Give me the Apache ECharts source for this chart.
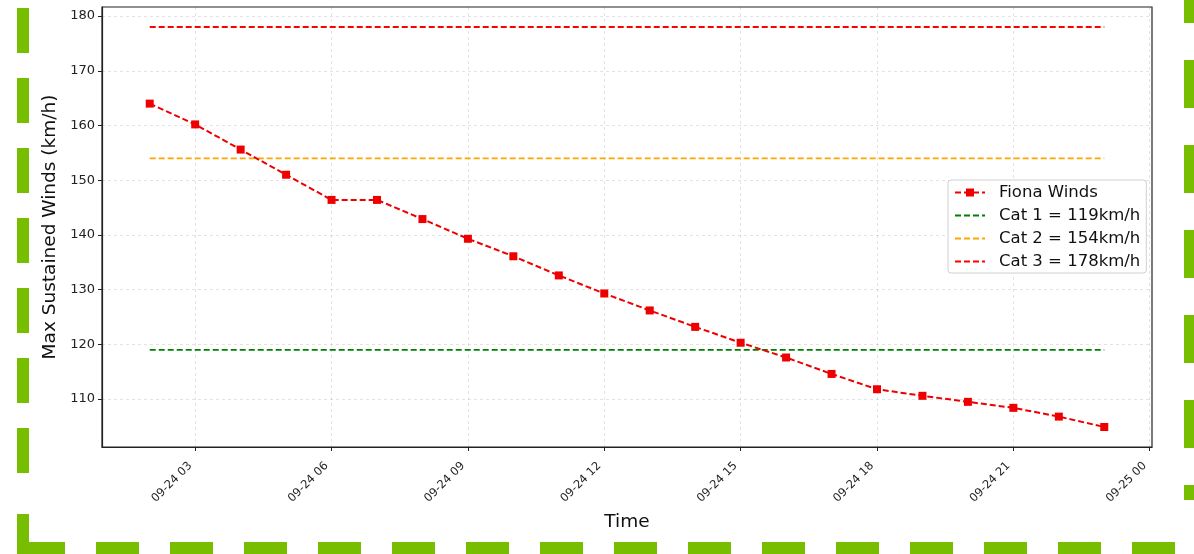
<!DOCTYPE html>
<html>
<head>
<meta charset="utf-8">
<script src="https://cdn.jsdelivr.net/npm/echarts@6/dist/echarts.min.js"></script>
<style>
  html, body { margin: 0; padding: 0; background: #fff; }
  #chart { width: 1194px; height: 554px; }
</style>
</head>
<body>
<div id="chart"></div>
<script>
// ---- data ----
const times = ['09-24 02','09-24 03','09-24 04','09-24 05','09-24 06','09-24 07','09-24 08','09-24 09','09-24 10','09-24 11','09-24 12',
               '09-24 13','09-24 14','09-24 15','09-24 16','09-24 17','09-24 18','09-24 19','09-24 20','09-24 21','09-24 22','09-24 23'];
const fionaWinds = [164.0, 160.2, 155.6, 151.0, 146.4, 146.4, 142.9, 139.3, 136.1, 132.6, 129.3,
                    126.2, 123.2, 120.3, 117.6, 114.6, 111.8, 110.6, 109.5, 108.4, 106.8, 104.9];
const cat1 = 119, cat2 = 154, cat3 = 178;
const xTickHours = [3, 6, 9, 12, 15, 18, 21, 24];
const yTicks = [110, 120, 130, 140, 150, 160, 170, 180];
const legendNames = ['Fiona Winds', 'Cat 1 = 119km/h', 'Cat 2 = 154km/h', 'Cat 3 = 178km/h'];

// hours since 09-24 00:00
function toHours(t) {
  const parts = t.split(' ');
  const day = parseInt(parts[0].split('-')[1], 10);
  return (day - 24) * 24 + parseInt(parts[1], 10);
}
function hourLabel(h) {
  const day = 24 + Math.floor(h / 24);
  const hh = h % 24;
  return '09-' + day + ' ' + String(hh).padStart(2, '0');
}
const xs = times.map(toHours);
const xFirst = xs[0], xLast = xs[xs.length - 1];
const xPad = (xLast - xFirst) * 0.05;
const yMinData = Math.min(...fionaWinds, cat1), yMaxData = Math.max(...fionaWinds, cat3);
const yPad = (yMaxData - yMinData) * 0.05;

const fionaData = xs.map((x, i) => [x, fionaWinds[i]]);
const refLine = v => [[xFirst, v], [xLast, v]];

const FONT = 'DejaVu Sans';
const GREEN = '#78be00';

const chart = echarts.init(document.getElementById('chart'), null, { renderer: 'canvas' });
chart.setOption({
  animation: false,
  backgroundColor: '#fff',
  textStyle: { fontFamily: FONT },
  grid: { left: 102, right: 42, top: 7, bottom: 107, show: true, borderColor: '#222', borderWidth: 1.2, backgroundColor: 'transparent' },
  legend: {
    orient: 'vertical',
    left: 948, top: 180,
    padding: [4, 6, 3, 6],
    itemGap: 6,
    itemWidth: 30, itemHeight: 10,
    backgroundColor: '#fff',
    borderColor: '#d0d0d0', borderWidth: 1, borderRadius: 3,
    textStyle: { fontFamily: FONT, fontSize: 16.5, color: '#111', padding: [0, 0, 0, 9] },
    data: [
      { name: legendNames[0] },
      { name: legendNames[1], itemStyle: { opacity: 0 } },
      { name: legendNames[2], itemStyle: { opacity: 0 } },
      { name: legendNames[3], itemStyle: { opacity: 0 } }
    ]
  },
  xAxis: {
    type: 'value',
    min: xFirst - xPad, max: xLast + xPad,
    name: 'Time', nameLocation: 'middle', nameGap: 66,
    nameTextStyle: { fontFamily: FONT, fontSize: 18.5, color: '#111' },
    axisLine: { show: true, lineStyle: { color: '#222', width: 1.2 } },
    axisTick: { show: true, length: 4, inside: false, customValues: xTickHours, lineStyle: { color: '#222' } },
    axisLabel: { customValues: xTickHours, rotate: 45, fontSize: 11.5, color: '#222', margin: 12, padding: [0, 7, 0, 0], formatter: v => hourLabel(v) },
    splitLine: { show: true, lineStyle: { color: 'rgba(0,0,0,0.14)', type: [3, 3], width: 0.8 } }
  },
  yAxis: {
    type: 'value',
    min: yMinData - yPad, max: yMaxData + yPad,
    name: 'Max Sustained Winds (km/h)', nameLocation: 'middle', nameGap: 42,
    nameTextStyle: { fontFamily: FONT, fontSize: 18.5, color: '#111' },
    axisLine: { show: true, lineStyle: { color: '#222', width: 1.2 } },
    axisTick: { show: true, length: 4, inside: false, customValues: yTicks, lineStyle: { color: '#222' } },
    axisLabel: { customValues: yTicks, fontSize: 13, color: '#222', margin: 7 },
    splitLine: { show: true, lineStyle: { color: 'rgba(0,0,0,0.14)', type: [3, 3], width: 0.8 } }
  },
  series: [
    {
      name: legendNames[0], type: 'line', data: fionaData,
      symbol: 'rect', symbolSize: 8,
      itemStyle: { color: '#ee0000' },
      lineStyle: { color: '#ee0000', width: 2, type: [6, 3] },
      z: 5
    },
    {
      name: legendNames[1], type: 'line', data: refLine(cat1), symbol: 'none',
      itemStyle: { color: '#008000' }, lineStyle: { color: '#008000', width: 1.8, type: [6, 3] }
    },
    {
      name: legendNames[2], type: 'line', data: refLine(cat2), symbol: 'none',
      itemStyle: { color: '#ffa500' }, lineStyle: { color: '#ffa500', width: 1.8, type: [6, 3] }
    },
    {
      name: legendNames[3], type: 'line', data: refLine(cat3), symbol: 'none',
      itemStyle: { color: '#ff0000' }, lineStyle: { color: '#ff0000', width: 1.8, type: [6, 3] }
    }
  ],
  graphic: [
    { type: 'line', silent: true, z: 100, shape: { x1: 23, y1: 8, x2: 23, y2: 480 }, style: { stroke: GREEN, lineWidth: 12, lineDash: [45, 25] } },
    { type: 'polyline', silent: true, z: 100, shape: { points: [[23, 514], [23, 548], [65, 548]] }, style: { stroke: GREEN, lineWidth: 12, fill: null } },
    { type: 'line', silent: true, z: 100, shape: { x1: 96, y1: 548, x2: 1194, y2: 548 }, style: { stroke: GREEN, lineWidth: 12, lineDash: [43, 31] } },
    { type: 'line', silent: true, z: 100, shape: { x1: 1190, y1: -25, x2: 1190, y2: 500 }, style: { stroke: GREEN, lineWidth: 12, lineDash: [48, 37] } }
  ]
});
</script>
</body>
</html>
